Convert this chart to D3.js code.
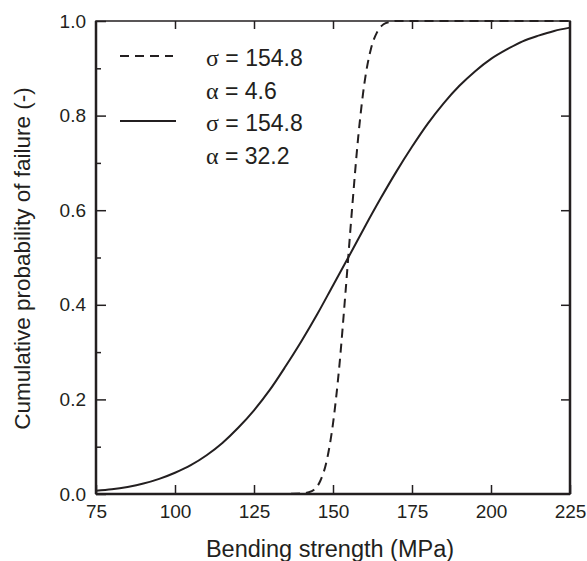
<!DOCTYPE html>
<html>
<head>
  <meta charset="utf-8">
  <script src="https://d3js.org/d3.v7.min.js"></script>
  <style>
    body { margin: 0; padding: 0; background: #fff; font-family: "Liberation Sans", Arial, sans-serif; }
    text { fill: #231f20; }
  </style>
</head>
<body>
<div id="chart"></div>
<script>

// values
var solidX = [75, 80, 85, 90, 95, 100, 105, 110, 115, 120, 125, 130, 135, 140, 145, 150,
              155, 160, 165, 170, 175, 180, 185, 190, 195, 200, 205, 210, 215, 220, 225];
var solidY = [0.007, 0.010, 0.015, 0.022, 0.032, 0.045, 0.061, 0.082, 0.108, 0.140, 0.177,
              0.220, 0.270, 0.323, 0.380, 0.441, 0.502, 0.564, 0.624, 0.681, 0.734, 0.783,
              0.826, 0.863, 0.894, 0.920, 0.940, 0.957, 0.969, 0.979, 0.986];

var dashX = [75, 130, 140, 142, 144, 146, 148, 150, 152, 154, 156, 158, 160, 162, 164, 166, 168, 170, 225];
var dashY = [0, 0, 0.001, 0.003, 0.009, 0.028, 0.07, 0.149, 0.27, 0.43, 0.60, 0.756, 0.871,
             0.941, 0.977, 0.993, 0.998, 1.0, 1.0];

var xTicks = [75, 100, 125, 150, 175, 200, 225];
var yTicks = [0, 0.2, 0.4, 0.6, 0.8, 1.0];
var yMinor = [0.1, 0.3, 0.5, 0.7, 0.9];

var legendItems = [
  { dash: "9,6", lines: ["σ", " = 154.8"], lines2: ["α", " = 4.6"] },
  { dash: null,  lines: ["σ", " = 154.8"], lines2: ["α", " = 32.2"] }
];

var W = 587, H = 561;
var margin = { top: 21, right: 17, bottom: 67, left: 96 };
var width = W - margin.left - margin.right;
var height = H - margin.top - margin.bottom;
var ink = "#231f20";

var svg = d3.select("#chart").append("svg")
    .attr("width", W)
    .attr("height", H);

var g = svg.append("g")
    .attr("transform", "translate(" + margin.left + "," + margin.top + ")");

var x = d3.scaleLinear().domain([75, 225]).range([0, width]);
var y = d3.scaleLinear().domain([0, 1]).range([height, 0]);

// frame
g.append("rect")
    .attr("width", width).attr("height", height)
    .attr("fill", "none").attr("stroke", ink).attr("stroke-width", 1.5);
g.append("line").attr("x1", 0).attr("x2", 0).attr("y1", 0).attr("y2", height)
    .attr("stroke", ink).attr("stroke-width", 2.5);
g.append("line").attr("x1", 0).attr("x2", width).attr("y1", height).attr("y2", height)
    .attr("stroke", ink).attr("stroke-width", 2.5);
g.append("line").attr("x1", width).attr("x2", width).attr("y1", 0).attr("y2", height)
    .attr("stroke", ink).attr("stroke-width", 2.5);

// axes with inward ticks
var bottomAxis = d3.axisBottom(x).tickValues(xTicks).tickSizeInner(-9).tickSizeOuter(0)
    .tickPadding(11).tickFormat(d3.format("d"));
var leftAxis = d3.axisLeft(y).tickValues(yTicks).tickSizeInner(-10).tickSizeOuter(0)
    .tickPadding(10).tickFormat(d3.format(".1f"));

var gx = g.append("g").attr("transform", "translate(0," + height + ")").call(bottomAxis);
var gy = g.append("g").call(leftAxis);

g.append("g").call(d3.axisTop(x).tickValues(xTicks.slice(1, -1)).tickSizeInner(-8).tickSizeOuter(0).tickFormat(""));
g.append("g").attr("transform", "translate(" + width + ",0)")
    .call(d3.axisRight(y).tickValues(yTicks.slice(1, -1)).tickSizeInner(-9).tickSizeOuter(0).tickFormat(""));
g.append("g").call(d3.axisLeft(y).tickValues(yMinor).tickSizeInner(-5).tickSizeOuter(0).tickFormat(""));

g.selectAll(".domain").remove();
g.selectAll(".tick line").attr("stroke", ink).attr("stroke-width", 1.5);
g.selectAll(".tick text").attr("font-size", 19).attr("font-family", "Liberation Sans, Arial, sans-serif").attr("fill", ink);
gx.selectAll(".tick text").attr("dy", "0.71em");

// curves
var line = d3.line()
    .x(function(d) { return x(d[0]); })
    .y(function(d) { return y(d[1]); })
    .curve(d3.curveMonotoneX);

g.append("path")
    .datum(d3.zip(solidX, solidY))
    .attr("d", line)
    .attr("fill", "none").attr("stroke", ink).attr("stroke-width", 2);

g.append("path")
    .datum(d3.zip(dashX, dashY))
    .attr("d", line)
    .attr("fill", "none").attr("stroke", ink).attr("stroke-width", 2)
    .attr("stroke-dasharray", "9,6");

// legend
var leg = g.append("g");
legendItems.forEach(function(item, i) {
  var ly = 35 + i * 65;
  var ln = leg.append("line")
      .attr("x1", 24).attr("x2", i === 0 ? 77 : 80)
      .attr("y1", ly).attr("y2", ly)
      .attr("stroke", ink).attr("stroke-width", 2);
  if (item.dash) ln.attr("stroke-dasharray", item.dash);

  [item.lines, item.lines2].forEach(function(parts, j) {
    var t = leg.append("text")
        .attr("x", 110).attr("y", ly + 10 + j * 32.5)
        .attr("font-size", 23).attr("fill", ink);
    t.append("tspan").attr("font-family", "Liberation Serif, Times New Roman, serif").attr("font-size", 24).text(parts[0]);
    t.append("tspan").attr("font-family", "Liberation Sans, Arial, sans-serif").text(parts[1]);
  });
});

// axis titles
svg.append("text")
    .attr("x", 330).attr("y", 557)
    .attr("text-anchor", "middle").attr("font-size", 23.5)
    .text("Bending strength (MPa)");

svg.append("text")
    .attr("transform", "translate(30," + (margin.top + height / 2 + 1) + ") rotate(-90)")
    .attr("text-anchor", "middle").attr("font-size", 22.5)
    .text("Cumulative probability of failure (-)");

</script>
</body>
</html>
